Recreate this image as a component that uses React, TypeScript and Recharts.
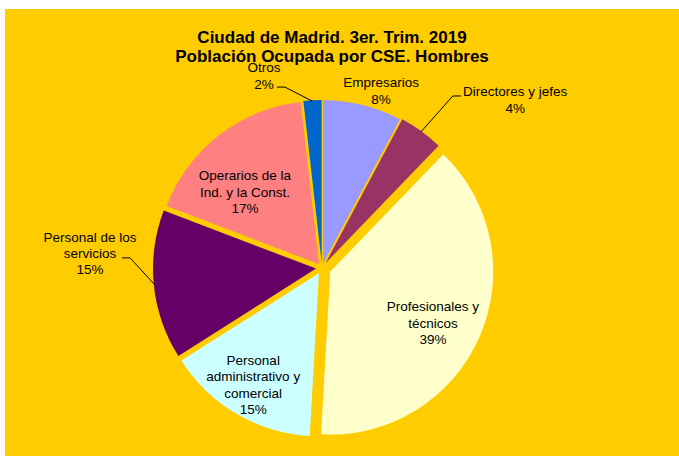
import { PieChart, Pie, Cell } from 'recharts';

const CATEGORIES = [
  'Empresarios',
  'Directores y jefes',
  'Profesionales y\ntécnicos',
  'Personal\nadministrativo y\ncomercial',
  'Personal de los\nservicios',
  'Operarios de la\nInd. y la Const.',
  'Otros',
];
const VALUES = [7.8, 4.4, 38.7, 15.1, 14.8, 17.4, 1.8];
const COLORS = ['#9999FF', '#993366', '#FFFFCC', '#CCFFFF', '#660066', '#FF8080', '#0066CC'];

// layout only
const W = 674;
const H = 447;
const CX = 317;
const CY = 259;
const R = 163;
const EXPLODE = [5, 6, 9, 6, 6, 5, 5];
const LABEL_POS = [
  { factor: 1.145, shift: 4.4 },
  { factor: 1.57, shift: 13 },
  { factor: 0.76, shift: 2.8 },
  { factor: 0.833, shift: 0 },
  { factor: 1.426, shift: 9.3 },
  { factor: 0.664, shift: -7.6 },
  { factor: 1.23, shift: -13.6 },
];
const LEADERS: Record<number, { factor: number; shift: number; tick: number }> = {
  1: { factor: 1.356, shift: 2.9, tick: -8 },
  4: { factor: 1.228, shift: 8.66, tick: 8 },
  6: { factor: 1.144, shift: -10.76, tick: 8 },
};

const data = CATEGORIES.map((name, i) => ({ name, value: VALUES[i] }));
const total = VALUES.reduce((a, b) => a + b, 0);

const polar = (r: number, clockDeg: number): [number, number] => {
  const rad = (clockDeg * Math.PI) / 180;
  return [CX + r * Math.sin(rad), CY - r * Math.cos(rad)];
};

// offset of each exploded slice along its bisector
const offsets = VALUES.map((v, i) => {
  const before = VALUES.slice(0, i).reduce((a, b) => a + b, 0);
  const mid = ((before + v / 2) / total) * 360;
  const rad = (mid * Math.PI) / 180;
  return [EXPLODE[i] * Math.sin(rad), -EXPLODE[i] * Math.cos(rad)];
});

const FONT = '"Liberation Sans", Arial, sans-serif';

const makeLabel = (slice: number) => (props: any) => {
  const { index, midAngle, percent } = props;
  if (index !== slice) return null;
  const clock = 90 - midAngle;
  const pos = LABEL_POS[index];
  const [tx, ty] = polar(R * pos.factor, clock + pos.shift);
  const lines = [...CATEGORIES[index].split('\n'), `${Math.round(percent * 100)}%`];
  const lh = 16.3;
  const top = ty - ((lines.length - 1) * lh) / 2;
  const lead = LEADERS[index];
  let leader = null;
  if (lead) {
    const [ex, ey] = polar(R * lead.factor, clock + lead.shift);
    const [sx, sy] = polar(R + EXPLODE[index] - 1, clock);
    leader = (
      <polyline
        points={`${sx},${sy} ${ex + lead.tick},${ey} ${ex},${ey}`}
        fill="none"
        stroke="#000"
        strokeWidth={1}
      />
    );
  }
  return (
    <g>
      {leader}
      <text textAnchor="middle" fontSize={13.5} fontFamily={FONT} fill="#000">
        {lines.map((l, k) => (
          <tspan key={k} x={tx} y={top + k * lh} dominantBaseline="central">
            {l}
          </tspan>
        ))}
      </text>
    </g>
  );
};

export default function App() {
  return (
    <div style={{ position: 'absolute', left: 5, top: 9, width: W, height: H, background: '#FFCC00' }}>
      <div
        style={{
          position: 'absolute',
          left: 0,
          top: 19,
          width: 654,
          textAlign: 'center',
          fontFamily: FONT,
          fontWeight: 'bold',
          fontSize: 17,
          lineHeight: '19px',
          color: '#000',
        }}
      >
        Ciudad de Madrid. 3er. Trim. 2019
        <br />
        Población Ocupada por CSE. Hombres
      </div>
      <PieChart
        width={W}
        height={H}
        margin={{ top: 0, right: 0, bottom: 0, left: 0 }}
        style={{ position: 'absolute', left: 0, top: 0 }}
      >
        {offsets.map(([dx, dy], j) => (
          <Pie
            key={j}
            data={data}
            dataKey="value"
            nameKey="name"
            cx={CX + dx}
            cy={CY + dy}
            outerRadius={R}
            startAngle={90}
            endAngle={-270}
            stroke="none"
            isAnimationActive={false}
            labelLine={false}
            label={makeLabel(j)}
          >
            {data.map((_, i) => (
              <Cell key={`cell-${i}`} fill={i === j ? COLORS[i] : 'none'} stroke="none" />
            ))}
          </Pie>
        ))}
      </PieChart>
    </div>
  );
}
